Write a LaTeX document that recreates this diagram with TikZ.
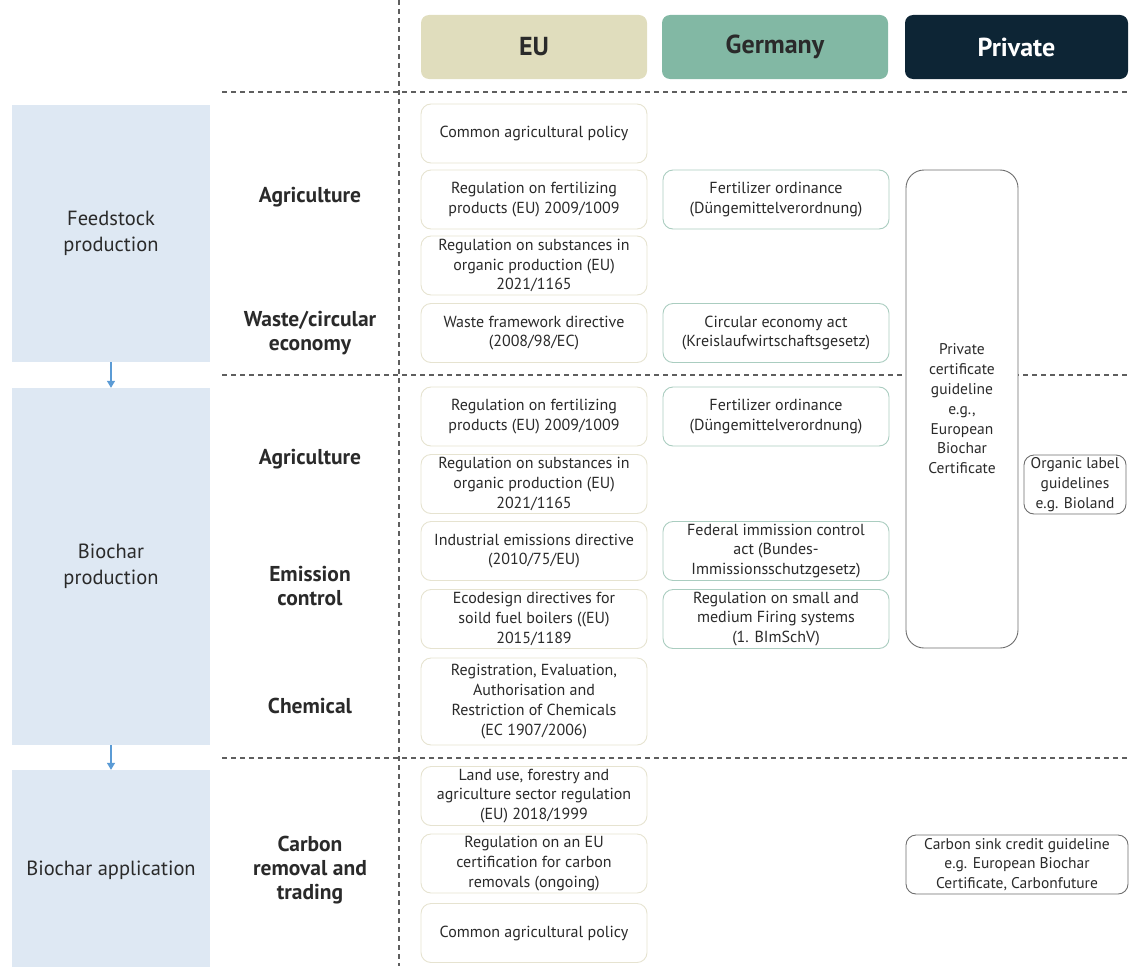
\documentclass[tikz,border=0pt]{standalone}
\usepackage{fontspec}
\setmainfont{PT Sans}
\usetikzlibrary{arrows.meta}
\definecolor{eufill}{HTML}{E0DDBD}
\definecolor{defill}{HTML}{82B8A4}
\definecolor{prfill}{HTML}{0D2535}
\definecolor{stagefill}{HTML}{DEE8F3}
\definecolor{arrowblue}{HTML}{5B9BD5}
\definecolor{euline}{HTML}{E6E3D0}
\definecolor{deline}{HTML}{AACDC0}
\definecolor{prline}{HTML}{6E6E6E}
\definecolor{txt}{HTML}{2A2A2A}
\definecolor{dashgray}{HTML}{5E5E5E}
\begin{document}
\begin{tikzpicture}[x=1pt,y=-1pt,
  every node/.style={text=txt, inner sep=0pt, align=center},
  body/.style={font=\fontsize{16}{19.8}\selectfont},
  pbody/.style={font=\fontsize{15.5}{19.8}\selectfont},
  stage/.style={fill=stagefill, minimum width=198pt, font=\fontsize{20.5}{26}\selectfont},
  cat/.style={font=\bfseries\fontsize{21.5}{24}\selectfont},
  head/.style={rounded corners=8pt, minimum width=226pt, minimum height=64pt, font=\bfseries\fontsize{26}{28}\selectfont},
  eubox/.style={body, draw=euline, line width=0.9pt, rounded corners=10pt, fill=white, minimum width=226pt, minimum height=59pt},
  debox/.style={body, draw=deline, line width=0.9pt, rounded corners=10pt, fill=white, minimum width=226pt, minimum height=59pt},
  prbox/.style={pbody, draw=prline, line width=0.9pt, rounded corners=10pt, fill=white},
  sep/.style={draw=dashgray, line width=1.1pt, dash pattern=on 5pt off 4pt},
  flow/.style={draw=arrowblue, line width=1.3pt, -{Triangle[width=8pt,length=7pt]}}
]
\useasboundingbox (0,0) rectangle (1129,966);

% separators
\coordinate (vtop) at (399,0);
\coordinate (vbot) at (399,966);
\draw[sep] (vtop) -- (vbot);
\coordinate (h1a) at (222,92);  \coordinate (h1b) at (1129,92);
\coordinate (h2a) at (222,375); \coordinate (h2b) at (1129,375);
\coordinate (h3a) at (222,758); \coordinate (h3b) at (1129,758);
\draw[sep] (h1a) -- (h1b);
\draw[sep] (h2a) -- (h2b);
\draw[sep] (h3a) -- (h3b);

% headers
\node[head, fill=eufill, text=txt] (hEU) at (534,47) {EU};
\node[head, fill=defill, text=txt] (hDE) at (775,47) {Germany};
\node[head, fill=prfill, text=white, minimum width=223pt] (hPR) at (1016.5,47) {Private};

% stages
\node[stage, minimum height=257pt] (s1) at (111,233.5) {Feedstock\\production};
\node[stage, minimum height=357pt] (s2) at (111,566.5) {Biochar\\production};
\node[stage, minimum height=200pt] (s3) at (111,870) {Biochar application};
\draw[flow] (s1.south) -- (s2.north);
\draw[flow] (s2.south) -- (s3.north);

% categories
\node[cat] (c1) at (310,197) {Agriculture};
\node[cat] (c2) at (310,333) {Waste/circular\\economy};
\node[cat] (c3) at (310,459) {Agriculture};
\node[cat] (c4) at (310,586) {Emission\\control};
\node[cat] (c5) at (310,706) {Chemical};
\node[cat] (c6) at (310,870) {Carbon\\removal and\\trading};

% EU column
\node[eubox] (e1) at (534,133.5) {Common agricultural policy};
\node[eubox] (e2) at (534,199.5) {Regulation on fertilizing\\products (EU) 2009/1009};
\node[eubox] (e3) at (534,265.5) {Regulation on substances in\\organic production (EU)\\2021/1165};
\node[eubox] (e4) at (534,333) {Waste framework directive\\(2008/98/EC)};
\node[eubox] (e5) at (534,416.5) {Regulation on fertilizing\\products (EU) 2009/1009};
\node[eubox] (e6) at (534,484) {Regulation on substances in\\organic production (EU)\\2021/1165};
\node[eubox] (e7) at (534,551) {Industrial emissions directive\\(2010/75/EU)};
\node[eubox] (e8) at (534,619) {Ecodesign directives for\\soild fuel boilers ((EU)\\2015/1189};
\node[eubox, minimum height=87pt] (e9) at (534,701.5) {Registration, Evaluation,\\Authorisation and\\Restriction of Chemicals\\(EC 1907/2006)};
\node[eubox] (e10) at (534,796) {Land use, forestry and\\agriculture sector regulation\\(EU) 2018/1999};
\node[eubox] (e11) at (534,863.5) {Regulation on an EU\\certification for carbon\\removals (ongoing)};
\node[eubox] (e12) at (534,933) {Common agricultural policy};

% Germany column
\node[debox] (g1) at (776,199.5) {Fertilizer ordinance\\(Düngemittelverordnung)};
\node[debox] (g2) at (776,333) {Circular economy act\\(Kreislaufwirtschaftsgesetz)};
\node[debox] (g3) at (776,416.5) {Fertilizer ordinance\\(Düngemittelverordnung)};
\node[debox] (g4) at (776,551) {Federal immission control\\act (Bundes-\\Immissionsschutzgesetz)};
\node[debox] (g5) at (776,619) {Regulation on small and\\medium Firing systems\\(1. BImSchV)};

% Private column
\node[prbox, rounded corners=18pt, minimum width=112pt, minimum height=478pt] (p1) at (962,409) {Private\\certificate\\guideline\\e.g.,\\European\\Biochar\\Certificate};
\node[prbox, minimum width=102pt, minimum height=59pt] (p2) at (1075,484.5) {Organic label\\guidelines\\e.g. Bioland};
\node[prbox, minimum width=222pt, minimum height=59pt] (p3) at (1017,864.5) {Carbon sink credit guideline\\e.g. European Biochar\\Certificate, Carbonfuture};
\end{tikzpicture}
\end{document}
